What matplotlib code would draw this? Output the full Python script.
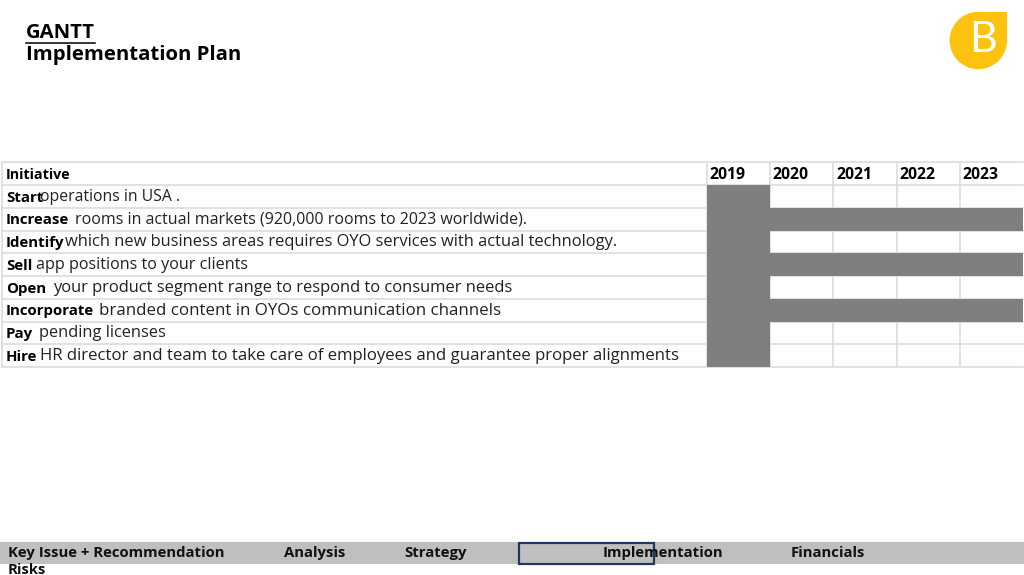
import matplotlib
matplotlib.use("Agg")
import matplotlib.pyplot as plt
from matplotlib.patches import Circle, Rectangle

FONT = ["Open Sans", "DejaVu Sans"]
plt.rcParams["font.family"] = FONT

title_lines = ["GANTT", "Implementation Plan"]
header = "Initiative"
years = [2019, 2020, 2021, 2022, 2023]
verbs = ["Start", "Increase", "Identify", "Sell", "Open", "Incorporate", "Pay", "Hire"]
details = [
    "operations in USA .",
    "rooms in actual markets (920,000 rooms to 2023 worldwide).",
    "which new business areas requires OYO services with actual technology.",
    "app positions to your clients",
    "your product segment range to respond to consumer needs",
    "branded content in OYOs communication channels",
    "pending licenses",
    "HR director and team to take care of employees and guarantee proper alignments",
]
span_start = [2019, 2019, 2019, 2019, 2019, 2019, 2019, 2019]
span_end = [2019, 2023, 2019, 2023, 2019, 2023, 2019, 2019]
nav_items = ["Key Issue + Recommendation", "Analysis", "Strategy", "Implementation", "Financials", "Risks"]

W, H = 1024, 575
fig = plt.figure(figsize=(W / 100, H / 100), dpi=100, facecolor="white")

page = fig.add_axes([0, 0, 1, 1], zorder=1)
page.set_xlim(0, W)
page.set_ylim(H, 0)
page.axis("off")

page.text(26, 33, title_lines[0], fontsize=14.6, fontweight="bold", va="center", color="black")
page.plot([26, 95], [42.6, 42.6], color="black", lw=1.1)
page.text(26, 55, title_lines[1], fontsize=14.6, fontweight="bold", va="center", color="black")

# Logo
page.add_patch(Circle((978.3, 40.5), 28.7, fc="#FFC20E", ec="none"))
page.add_patch(Rectangle((978.3, 11.8), 28.7, 28.7, fc="#FFC20E", ec="none"))
page.text(983, 40.5, "B", color="white", fontsize=31, fontweight="normal", ha="center", va="center",
          family=["Lato", "Open Sans"])

# Footer
page.add_patch(Rectangle((0, 542), W, 22, fc="#BFBFBF", ec="none"))
page.add_patch(Rectangle((519, 542.5), 135, 21, fc="none", ec="#1F3864", lw=1.6, zorder=3))
nav_x = [7.5, 284, 404, 603, 791, 7.5]
nav_y = [553, 553, 553, 553, 553, 569.5]
for name, x, y in zip(nav_items, nav_x, nav_y):
    page.text(x, y, name, fontsize=10.75, fontweight="bold", va="center", color="#111111", zorder=4)

# Gantt table: x in years, y in rows
col_w = 63.2
left, right, top, bottom = 2, 1023, 162.5, 367
ax = fig.add_axes([left / W, 1 - bottom / H, (right - left) / W, (bottom - top) / H], zorder=0)
ax.set_xlim(years[0] - (707 - left) / col_w, years[0] + (right - 707) / col_w)
ax.set_ylim(len(verbs) + 0.5, -0.5)
ax.axis("off")

grid = "#D9D9D9"
rows = list(range(1, len(verbs) + 1))
for r in range(len(verbs) + 2):
    ax.axhline(r - 0.5, color=grid, lw=1.1, zorder=1, clip_on=False)
for y in years:
    ax.axvline(y, color=grid, lw=1.1, zorder=1)
ax.axvline(ax.get_xlim()[0], color=grid, lw=1.1, zorder=1, clip_on=False)

ax.barh(rows, [e - s + 1 for s, e in zip(span_start, span_end)], left=span_start,
        height=1.0, color="#7F7F7F", zorder=2)

px2x = lambda px: ax.transData.inverted().transform((px, 0))[0]
text_dy = 0.05

for y in years:
    ax.text(y + 0.04, text_dy, str(y), fontsize=11.3, fontweight="bold", va="center", color="black", zorder=3)

x0 = px2x(6)
ax.text(x0, text_dy, header, fontsize=10.3, fontweight="bold", va="center", color="black", zorder=3)

# Pixel extents of each row's regular text, used to size it to the reference's loose tracking
detail_left = [40, 75, 65, 36, 53, 99, 39, 40]
detail_right = [180, 528, 618, 248, 514, 500, 166, 680]
base_size = 10.8

fig.canvas.draw()
rend = fig.canvas.get_renderer()
for r, verb, detail, l, rt in zip(rows, verbs, details, detail_left, detail_right):
    ax.text(x0, r + text_dy, verb, fontsize=10.8, fontweight="bold", va="center", color="black", zorder=3)
    probe = ax.text(px2x(l), r + text_dy - 0.03, detail, fontsize=base_size, va="center", color="#222222", zorder=3)
    w = probe.get_window_extent(rend).width
    probe.set_fontsize(base_size * (rt - l) / w)

fig.savefig("out.png", dpi=100)
